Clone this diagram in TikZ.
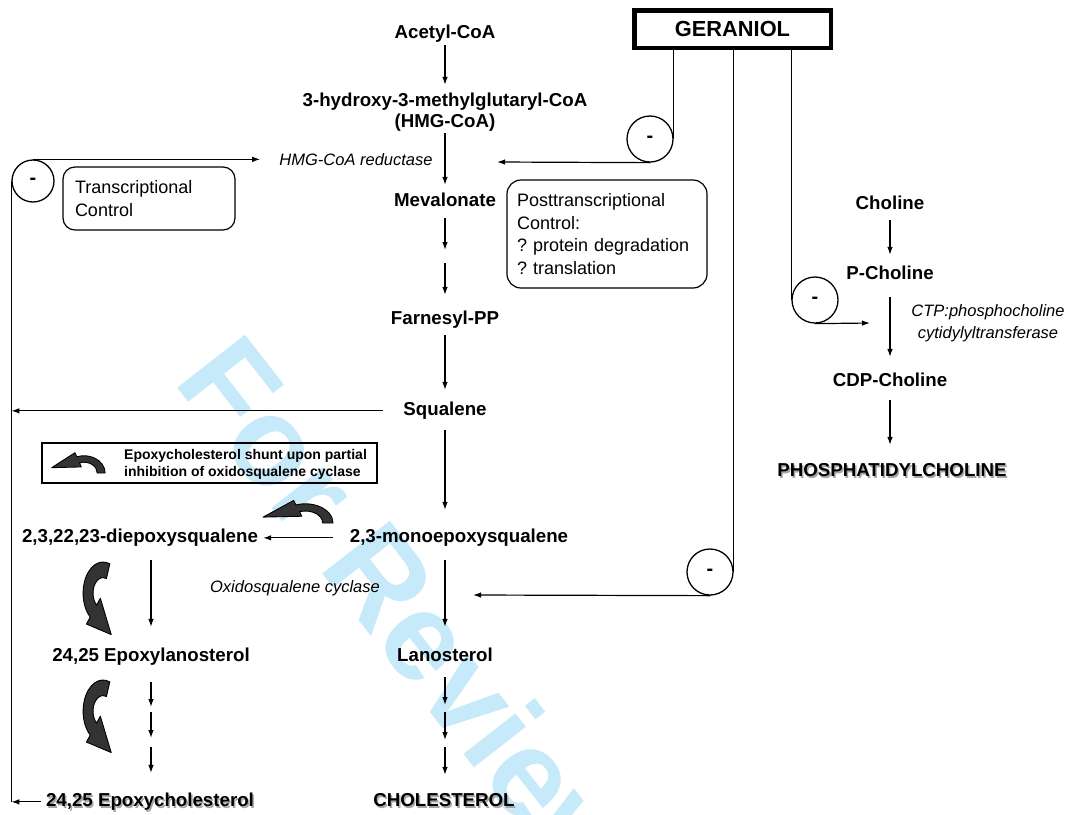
\documentclass[tikz,border=0pt]{standalone}
\usepackage{fontspec}
\setmainfont{Liberation Sans}
\usetikzlibrary{arrows.meta,calc}
\definecolor{wm}{RGB}{198,234,250}
\definecolor{bentfill}{RGB}{51,51,51}
\tikzset{
  lbl/.style={inner sep=0pt, font=\fontsize{18.7}{21}\selectfont\bfseries, text height=13.6pt, text depth=3.9pt, anchor=base},
  lbltwo/.style={inner sep=0pt, font=\fontsize{18.7}{21}\selectfont\bfseries, align=center},
  enz/.style={inner sep=0pt, font=\fontsize{16.5}{22}\selectfont\itshape, text height=12pt, text depth=3.5pt, anchor=base},
  enztwo/.style={inner sep=0pt, font=\fontsize{16.5}{22}\selectfont\itshape, align=center},
  shadowtxt/.style={text=black!35},
  ln/.style={line width=1.3pt},
  arr/.style={line width=1.2pt, -{Latex[length=8pt,width=5.5pt]}},
  minus/.style={draw, circle, line width=1.3pt, minimum size=46pt, inner sep=0pt, font=\fontsize{20}{20}\selectfont\bfseries},
  ctrlbox/.style={draw, rounded corners=12pt, line width=1.2pt, align=left, inner ysep=0pt, font=\fontsize{18}{22.7}\selectfont},
  bent/.style={fill=bentfill, draw=black, line width=0.9pt, line join=round},
}
\begin{document}
\frenchspacing
\begin{tikzpicture}[x=1pt,y=-1pt]
\useasboundingbox (0,0) rectangle (1073,814);
% watermark
\begin{scope}
\clip (0,0) rectangle (1073,814);
\node[inner sep=0pt, anchor=base west, rotate=-52, text=wm, font=\fontsize{125}{125}\selectfont\bfseries] (wmark) at (172,381) {For Review};
\end{scope}

% ---------- main pathway ----------
\node[lbl] (acetyl) at (445,38) {Acetyl-CoA};
\node[lbltwo] (hmg) at (445,111.7) {3-hydroxy-3-methylglutaryl-CoA\\(HMG-CoA)};
\node[enz] (hmgr) at (356,165) {HMG-CoA reductase};
\node[lbl] (mev) at (445,206.7) {Mevalonate};
\node[lbl] (farn) at (445,324.7) {Farnesyl-PP};
\node[lbl] (squal) at (445,415.7) {Squalene};
\node[lbl] (mono) at (459,542.7) {2,3-monoepoxysqualene};
\node[enz] (osc) at (295,592) {Oxidosqualene cyclase};
\node[lbl] (lano) at (445,661.7) {Lanosterol};
\node[lbl, shadowtxt] (cholsh) at (445.5,808.2) {CHOLESTEROL};
\node[lbl] (chol) at (444,806.7) {CHOLESTEROL};

\coordinate (m1) at (445,256.5);
\coordinate (l1) at (445,708.5);
\coordinate (l2) at (445,743.5);

\draw[arr, shorten <=3pt, shorten >=7.4pt] (acetyl.south) -- (hmg.north);
\draw[arr, shorten <=2pt, shorten >=8pt] (hmg.south) -- (mev.north);
\draw[arr, shorten <=7.4pt, shorten >=6.5pt] (mev.south) -- (m1);
\draw[arr, shorten <=6.5pt, shorten >=16pt] (m1) -- (farn.north);
\draw[arr, shorten <=6.4pt, shorten >=12pt] (farn.south) -- (squal.north);
\draw[arr, shorten <=10.4pt, shorten >=19pt] (squal.south) -- (squal.south |- mono.north);
\draw[arr, shorten <=13.4pt, shorten >=21pt] (lano.north |- mono.south) -- (lano.north);
\draw[arr, shorten <=11.4pt, shorten >=3.5pt] (lano.south) -- (l1);
\draw[arr, shorten <=3.5pt, shorten >=3.5pt] (l1) -- (l2);
\draw[arr, shorten <=3.5pt, shorten >=18pt] (l2) -- (l2 |- chol.north);

% ---------- epoxy shunt ----------
\node[lbl] (di) at (140,542.7) {2,3,22,23-diepoxysqualene};
\node[lbl] (elano) at (151,661.7) {24,25 Epoxylanosterol};
\node[lbl, shadowtxt] (echolsh) at (151.5,808.2) {24,25 Epoxycholesterol};
\node[lbl] (echol) at (150,806.7) {24,25 Epoxycholesterol};

\coordinate (e1) at (151,709.5);
\coordinate (e2) at (151,742.5);

\draw[arr, shorten <=17pt, shorten >=5pt] (mono.west) -- (di.east);
\draw[arr, shorten <=13.4pt, shorten >=21pt] (elano.north |- di.south) -- (elano.north);
\draw[arr, shorten <=16.4pt, shorten >=2.5pt] (elano.south) -- (e1);
\draw[arr, shorten <=2.5pt, shorten >=4.5pt] (e1) -- (e2);
\draw[arr, shorten <=4.5pt, shorten >=20pt] (e2) -- (e2 |- echol.north);

% legend box
\node[draw, line width=1.3pt, minimum width=335pt, minimum height=40pt, inner sep=0pt] (legend) at (209.5,463) {};
\node[inner sep=0pt, anchor=west, align=left, font=\fontsize{14}{17}\selectfont\bfseries] (legtxt) at (124,464.5) {Epoxycholesterol shunt upon partial\\inhibition of oxidosqualene cyclase};

% bent arrows
\begin{scope}[shift={(305.4,523)}, xscale=1.15, yscale=0.8]
\filldraw[bent] (0:24) arc[start angle=0, end angle=-110, radius=24] -- (-110:30) -- ($(-110:19.5)+(160:32)$) -- (-110:9) -- (-110:15) arc[start angle=-110, end angle=0, radius=15] -- cycle;
\end{scope}
\begin{scope}[shift={(84,473)}, xscale=0.88, yscale=0.72]
\filldraw[bent] (0:24) arc[start angle=0, end angle=-110, radius=24] -- (-110:30) -- ($(-110:19.5)+(160:32)$) -- (-110:9) -- (-110:15) arc[start angle=-110, end angle=0, radius=15] -- cycle;
\end{scope}
\foreach \cy in {593.2,711.2}{
\begin{scope}[shift={(103,\cy)}, xscale=0.83, yscale=1.3]
\filldraw[bent] (-70:24) arc[start angle=-70, end angle=-230, radius=24] -- (-230:31) -- ($(-230:18)+(40:28)$) -- (-230:5) -- (-230:12) arc[start angle=-230, end angle=-70, radius=12] -- cycle;
\end{scope}
}

% ---------- control boxes ----------
\node[ctrlbox, minimum width=172pt, minimum height=63pt, text width=148pt, inner xsep=12pt] (trans) at (149,198.5) {Transcriptional\\Control};
\node[ctrlbox, rounded corners=14pt, minimum width=200pt, minimum height=108pt, text width=180pt, inner xsep=10pt] (post) at (607,234) {Posttranscriptional\\Control:\\? protein degradation\\? translation};

% left feedback loop
\node[minus, minimum size=42pt] (c0) at (33,181) {-};
\draw[ln] (c0.west) -- (c0.west |- echol.west);
\draw[arr, shorten >=19pt] (c0.north) -- (c0.north -| hmgr.west);
\draw[arr, shorten <=20pt] (squal.west) -- (squal.west -| c0.west);
\draw[arr, shorten <=5pt] (echol.west) -- (echol.west -| c0.west);

% ---------- geraniol ----------
\node[draw, line width=4.5pt, minimum width=196.5pt, minimum height=37.5pt, inner sep=0pt, font=\fontsize{21.8}{22}\selectfont\bfseries] (ger) at (732.5,29) {GERANIOL};
\node[minus] (c1) at (650,139) {-};
\node[minus] (c2) at (710,572) {-};
\node[minus] (c3) at (815,300) {-};
\coordinate (t1) at (497,162);
\coordinate (t2) at (473,595);
\coordinate (t3) at (870,323);
\draw[ln] (ger.south -| c1.east) -- (c1.east);
\draw[ln] (ger.south -| c2.east) -- (c2.east);
\draw[ln] (ger.south -| c3.west) -- (c3.west);
\draw[arr] (c1.south) -- (t1);
\draw[arr] (c2.south) -- (t2);
\draw[arr] (c3.south) -- (t3);

% ---------- choline pathway ----------
\node[lbl] (choline) at (890,209.7) {Choline};
\node[lbl] (pchol) at (890,279.7) {P-Choline};
\node[enztwo] (ctp) at (988,323.7) {CTP:phosphocholine\\cytidylyltransferase};
\node[lbl] (cdp) at (890,386.7) {CDP-Choline};
\node[lbl, shadowtxt] (ptcsh) at (893.5,478.2) {PHOSPHATIDYLCHOLINE};
\node[lbl] (ptc) at (892,476.7) {PHOSPHATIDYLCHOLINE};
\draw[arr, shorten <=6.4pt, shorten >=11pt] (choline.south) -- (pchol.north);
\draw[arr, shorten <=13.4pt, shorten >=16pt] (pchol.south) -- (cdp.north);
\draw[arr, shorten <=9.4pt, shorten >=18pt] (cdp.south) -- (cdp.south |- ptc.north);
\end{tikzpicture}
\end{document}
